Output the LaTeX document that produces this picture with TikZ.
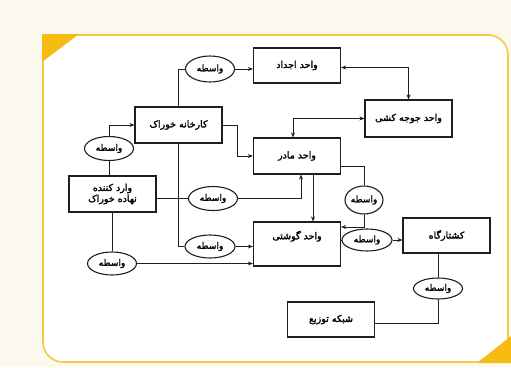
\documentclass[tikz,border=0pt]{standalone}
\usepackage{fontspec}
\usetikzlibrary{shapes.geometric,arrows.meta,calc}
\newfontfamily\arabicfont[Script=Arabic,FakeBold=2]{DejaVu Sans}
\TeXXeTstate=1
\definecolor{cream}{HTML}{FCF8EE}
\definecolor{gold}{HTML}{F6C945}
\definecolor{goldtri}{HTML}{F7BC12}
\definecolor{ink}{HTML}{1E1E1E}
\tikzset{
  box/.style={draw=ink,line width=1.2pt,fill=white,minimum width=87pt,minimum height=35pt,inner sep=1pt,font=\arabicfont\fontsize{9.5}{12}\selectfont,align=center},
  mid/.style={draw=ink,ellipse,line width=1.1pt,fill=white,minimum width=49pt,minimum height=24pt,inner sep=0pt,font=\arabicfont\fontsize{9}{10}\selectfont},
  conn/.style={draw=ink,line width=0.9pt},
  >={Stealth[length=5pt,width=4pt]}
}
\begin{document}
\begin{tikzpicture}[x=1pt,y=-1pt]
\useasboundingbox (0,0) rectangle (511,367);
\fill[cream] (0,0) rectangle (511,367);
% frame
\fill[white] (43,35) -- (488,35) .. controls (499,35) and (508,44) .. (508,55) -- (508,362) -- (63,362) .. controls (52,362) and (43,353) .. (43,342) -- cycle;
\draw[gold,line width=1.6pt] (43,35) -- (488,35) .. controls (499,35) and (508,44) .. (508,55) -- (508,362) -- (63,362) .. controls (52,362) and (43,353) .. (43,342) -- cycle;
\fill[goldtri] (42,34) -- (79,34) -- (42,62) -- cycle;
\fill[goldtri] (477,363) -- (511,363) -- (511,336) -- cycle;

% boxes
\node[box] (A) at (297,65.5) {\beginR واحد اجداد\endR};
\node[box,minimum height=37pt] (J) at (408.5,118.5) {\beginR واحد جوجه کشی\endR};
\node[box,minimum height=36pt] (M) at (297,156) {\beginR واحد مادر\endR};
\node[box,minimum height=44pt] (G) at (297,244) {\beginR واحد گوشتی\endR\\[6pt]};
\node[box] (K) at (446.5,235.5) {\beginR کشتارگاه\endR};
\node[box] (S) at (331,319.5) {\beginR شبکه توزیع\endR};
\node[box,minimum height=36pt] (F) at (178.5,125) {\beginR کارخانه خوراک\endR};
\node[box,minimum height=36pt,font=\arabicfont\fontsize{9.5}{11}\selectfont] (I) at (112.5,194) {\beginR وارد کننده\endR\\\beginR نهاده خوراک\endR};

% intermediaries
\node[mid,minimum height=26pt] (e1) at (210,69) {\beginR واسطه\endR};
\node[mid] (e2) at (109,148.5) {\beginR واسطه\endR};
\node[mid] (e3) at (213,198.5) {\beginR واسطه\endR};
\node[mid,minimum height=23pt,minimum width=50pt] (e4) at (210,246.5) {\beginR واسطه\endR};
\node[mid,minimum height=23pt] (e5) at (112,263.5) {\beginR واسطه\endR};
\node[mid,minimum width=38pt,minimum height=28pt] (e6) at (364,200) {\beginR واسطه\endR};
\node[mid,minimum width=50pt,minimum height=22pt] (e7) at (367,240) {\beginR واسطه\endR};
\node[mid,minimum height=21pt] (e8) at (438,288.5) {\beginR واسطه\endR};

% connectors
\draw[conn] (F.north) |- (e1.west);
\draw[conn,->] (e1.east) -- (e1.east -| A.west);
\draw[conn] (e2.south) -- (e2.south |- I.north);
\draw[conn,->] (e2.north) |- (F.west);
\draw[conn,->] (F.east) -- ++(15,0) |- (M.west);
\draw[conn] (F.south) |- (e4.west);
\draw[conn,->] (e4.east) -- (e4.east -| G.west);
\draw[conn] (e3.west -| I.east) -- (e3.west);
\draw[conn,->] (e3.east) -| ($(M.south)+(4,0)$);
\draw[conn] (I.south -| e5.north) -- (e5.north);
\draw[conn,->] (e5.east) -- (e5.east -| G.west);
\draw[conn,->] ($(M.south)+(16,0)$) -- ($(G.north)+(16,0)$);
\draw[conn] ($(M.east)+(0,10)$) -| (e6.north);
\draw[conn,->] (e6.south) |- ($(G.east)+(0,-17)$);
\draw[conn] (e7.west -| G.east) -- (e7.west);
\draw[conn,->] (e7.east) -- (e7.east -| K.west);
\draw[conn] (e8.north) -- (e8.north |- K.south);
\draw[conn] (e8.south) |- ($(S.east)+(0,4)$);
\draw[conn,<->] ($(A.east)+(0,2)$) -| (J.north);
\draw[conn,<->] (J.west) -| ($(M.north)+(-4,0)$);
\end{tikzpicture}
\end{document}
